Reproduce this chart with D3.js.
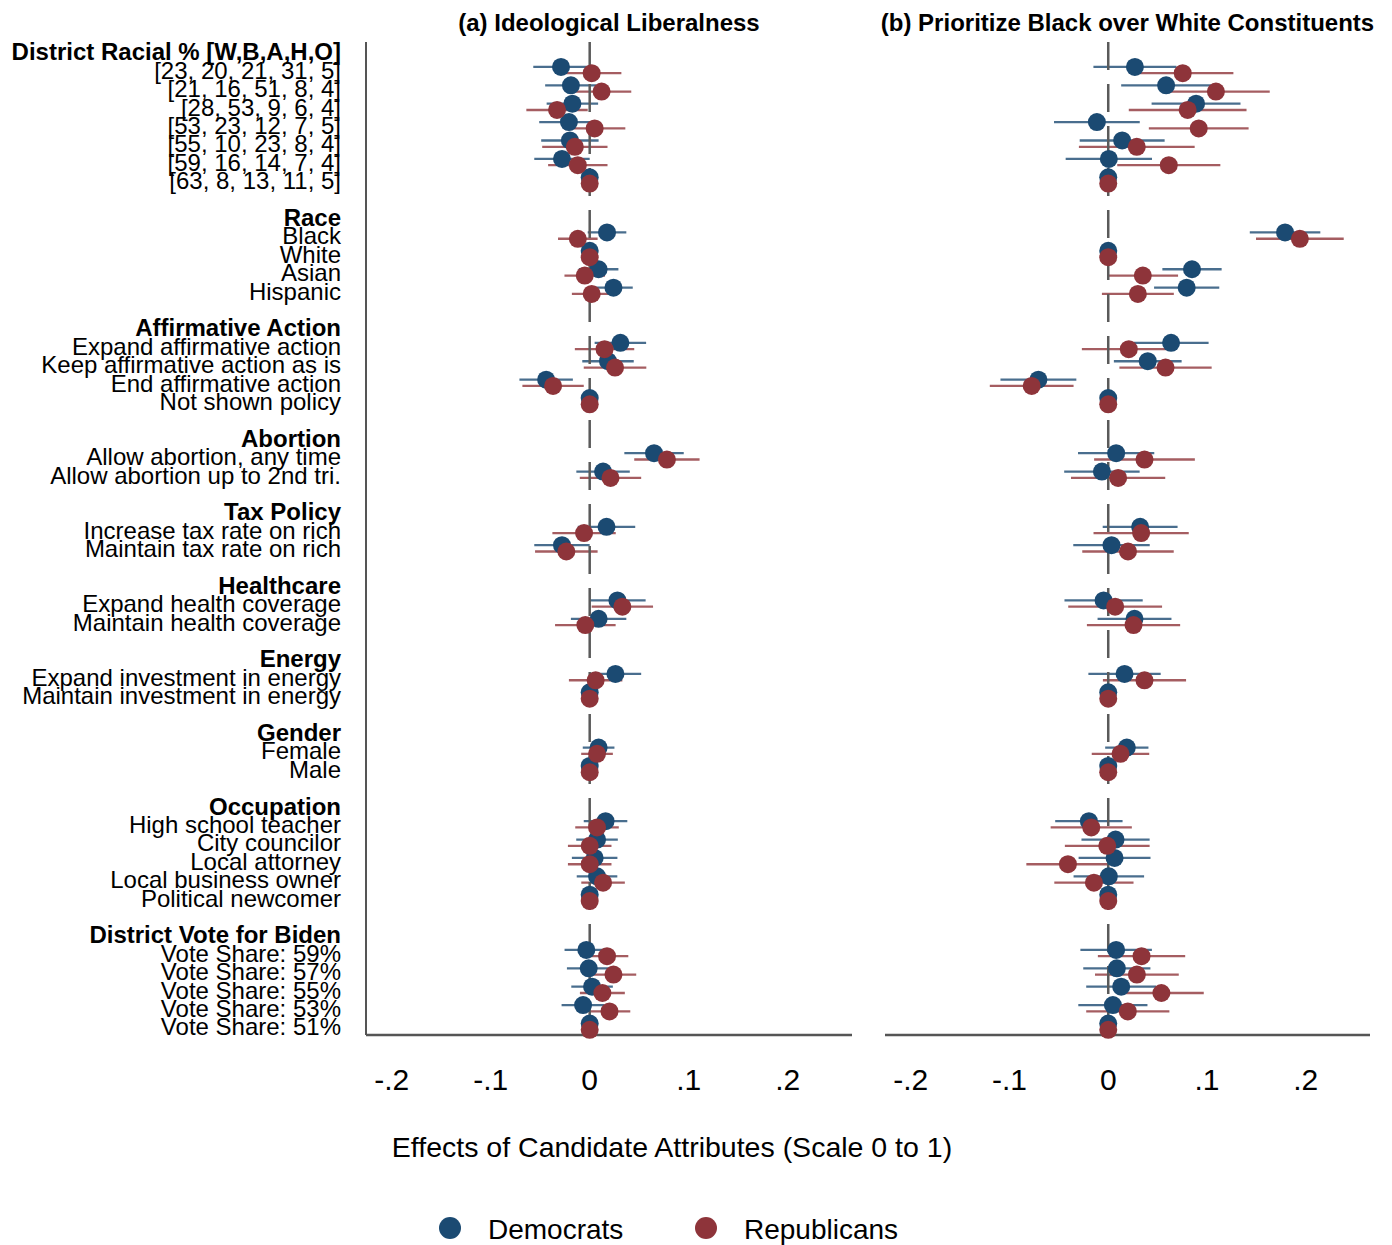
<!DOCTYPE html>
<html>
<head>
<meta charset="utf-8">
<script src="https://cdn.jsdelivr.net/npm/d3@7"></script>
<style>
  body { margin: 0; background: #fff; }
  svg { font-family: "Liberation Sans", Arial, sans-serif; }
</style>
</head>
<body>
<svg width="1392" height="1245"></svg>
<script>
// attribute groups and their levels (last level of each group = reference)
const groupNames = ["District Racial % [W,B,A,H,O]", "Race", "Affirmative Action", "Abortion",
  "Tax Policy", "Healthcare", "Energy", "Gender", "Occupation", "District Vote for Biden"];
const groupLevels = [
  ["[23, 20, 21, 31, 5]", "[21, 16, 51, 8, 4]", "[28, 53, 9, 6, 4]", "[53, 23, 12, 7, 5]",
   "[55, 10, 23, 8, 4]", "[59, 16, 14, 7, 4]", "[63, 8, 13, 11, 5]"],
  ["Black", "White", "Asian", "Hispanic"],
  ["Expand affirmative action", "Keep affirmative action as is", "End affirmative action", "Not shown policy"],
  ["Allow abortion, any time", "Allow abortion up to 2nd tri."],
  ["Increase tax rate on rich", "Maintain tax rate on rich"],
  ["Expand health coverage", "Maintain health coverage"],
  ["Expand investment in energy", "Maintain investment in energy"],
  ["Female", "Male"],
  ["High school teacher", "City councilor", "Local attorney", "Local business owner", "Political newcomer"],
  ["Vote Share: 59%", "Vote Share: 57%", "Vote Share: 55%", "Vote Share: 53%", "Vote Share: 51%"]
];

// (a) Ideological Liberalness: estimates and 95% CI half widths
const libDem = [-.029, -.019, -.0175, -.021, -.020, -.028, 0,
  .0175, 0, .009, .024,
  .031, .0185, -.044, 0,
  .065, .0135,
  .017, -.028,
  .028, .009,
  .026, 0,
  .009, 0,
  .016, .0074, .005, .0074, 0,
  -.0034, -.001, .0024, -.0067, 0];
const libDemCI = [.028, .026, .026, .030, .029, .028, 0,
  .0195, 0, .020, .0195,
  .026, .026, .027, 0,
  .030, .027,
  .029, .028,
  .0285, .028,
  .026, 0,
  .016, 0,
  .022, .021, .023, .0205, 0,
  .022, .022, .021, .0217, 0];
const libRep = [.002, .012, -.033, .005, -.015, -.012, 0,
  -.012, 0, -.005, .002,
  .015, .0256, -.037, 0,
  .078, .021,
  -.0057, -.0236,
  .033, -.0044,
  .006, 0,
  .0074, 0,
  .0074, 0, 0, .0135, 0,
  .0175, .024, .0128, .020, 0];
const libRepCI = [.030, .030, .031, .031, .033, .030, 0,
  .020, 0, .0205, .020,
  .030, .0316, .031, 0,
  .033, .031,
  .032, .0316,
  .031, .0306,
  .027, 0,
  .016, 0,
  .022, .022, .022, .022, 0,
  .0215, .023, .0227, .021, 0];

// (b) Prioritize Black over White Constituents
const blkDem = [.027, .0586, .0889, -.0115, .0141, .0006, 0,
  .179, 0, .0848, .0794,
  .0636, .040, -.0707, 0,
  .008, -.0064,
  .0323, .0033,
  -.0047, .0266,
  .0165, 0,
  .0188, 0,
  -.0196, .0074, .0064, .0006, 0,
  .008, .0087, .0131, .0047, 0];
const blkDemCI = [.042, .0455, .045, .0434, .043, .0437, 0,
  .0357, 0, .030, .033,
  .038, .0343, .0384, 0,
  .0386, .0382,
  .0379, .0387,
  .0396, .0374,
  .0366, 0,
  .0219, 0,
  .0341, .0345, .0364, .0357, 0,
  .0362, .034, .0354, .035, 0];
const blkRep = [.0754, .109, .0804, .0916, .0289, .0613, 0,
  .194, 0, .035, .030,
  .0208, .058, -.0775, 0,
  .0367, .010,
  .0333, .020,
  .007, .0256,
  .0367, 0,
  .0124, 0,
  -.0172, -.001, -.0408, -.0145, 0,
  .0337, .029, .0538, .0198, 0];
const blkRepCI = [.0513, .0545, .0596, .0505, .0586, .0522, 0,
  .0444, 0, .0357, .0364,
  .0475, .0467, .0424, 0,
  .051, .0477,
  .0482, .0463,
  .0475, .0472,
  .0421, 0,
  .0291, 0,
  .0411, .0429, .0421, .0401, 0,
  .0442, .0424, .0429, .0421, 0];

const xTicks = [-0.2, -0.1, 0, 0.1, 0.2];
const seriesNames = ["Democrats", "Republicans"];
const colors = {Democrats: "#1b4a72", Republicans: "#8e343a"};

const svg = d3.select("svg");

// build rows: header, levels, blank spacer
const rows = [];
let slot = 0, k = 0;
groupNames.forEach((g, gi) => {
  rows.push({label: g, header: true, slot: slot++});
  groupLevels[gi].forEach(l => {
    rows.push({label: l, header: false, slot: slot++, i: k++});
  });
  slot++;
});
const nSlots = slot - 2;

const y = d3.scaleLinear().domain([0, nSlots]).range([52, 1027]);
const plotTop = 42, plotBottom = 1035;

// stata style tick labels: -.2, -.1, 0, .1, .2
const tickFmt = d => d === 0 ? "0" : (d < 0 ? "-" : "") + String(Math.abs(d)).replace(/^0/, "");

const panels = [
  {title: "(a) Ideological Liberalness", x: d3.scaleLinear().domain([-0.226, 0.265]).range([366, 852]),
   dem: libDem, demCI: libDemCI, rep: libRep, repCI: libRepCI, yAxis: true},
  {title: "(b) Prioritize Black over White Constituents", x: d3.scaleLinear().domain([-0.226, 0.265]).range([885, 1370]),
   dem: blkDem, demCI: blkDemCI, rep: blkRep, repCI: blkRepCI, yAxis: false}
];

const levelRows = rows.filter(r => !r.header);

panels.forEach(p => {
  const g = svg.append("g");
  const [x0, x1] = p.x.range();

  g.append("text")
    .attr("x", (x0 + x1) / 2).attr("y", 31)
    .attr("text-anchor", "middle")
    .attr("font-size", 24).attr("font-weight", "bold")
    .text(p.title);

  // axis lines
  if (p.yAxis) {
    g.append("line")
      .attr("x1", x0).attr("x2", x0).attr("y1", plotTop).attr("y2", plotBottom)
      .attr("stroke", "#555").attr("stroke-width", 2);
  }
  g.append("line")
    .attr("x1", x0).attr("x2", x1).attr("y1", plotBottom).attr("y2", plotBottom)
    .attr("stroke", "#555").attr("stroke-width", 2.5);

  g.selectAll(".tick").data(xTicks).enter().append("text")
    .attr("x", d => p.x(d)).attr("y", 1090)
    .attr("text-anchor", "middle")
    .attr("font-size", 30)
    .text(tickFmt);

  const series = [
    {name: "Democrats", est: p.dem, ci: p.demCI, dy: -3.5},
    {name: "Republicans", est: p.rep, ci: p.repCI, dy: 2.8}
  ];

  // confidence intervals
  series.forEach(s => {
    g.append("g").selectAll("line")
      .data(levelRows.filter(r => s.ci[r.i] > 0))
      .enter().append("line")
      .attr("x1", r => p.x(s.est[r.i] - s.ci[r.i]))
      .attr("x2", r => p.x(s.est[r.i] + s.ci[r.i]))
      .attr("y1", r => y(r.slot) + s.dy)
      .attr("y2", r => y(r.slot) + s.dy)
      .attr("stroke", colors[s.name])
      .attr("stroke-opacity", 0.8)
      .attr("stroke-width", 2.3);
  });

  // zero reference line
  g.append("line")
    .attr("x1", p.x(0)).attr("x2", p.x(0))
    .attr("y1", plotTop).attr("y2", plotBottom)
    .attr("stroke", "#5a5a5a").attr("stroke-width", 2.5)
    .attr("stroke-dasharray", "28,14");

  series.forEach(s => {
    g.append("g").selectAll("circle")
      .data(levelRows)
      .enter().append("circle")
      .attr("cx", r => p.x(s.est[r.i]))
      .attr("cy", r => y(r.slot) + s.dy)
      .attr("r", 9)
      .attr("fill", colors[s.name]);
  });
});

// row labels
svg.append("g").selectAll("text")
  .data(rows).enter().append("text")
  .attr("x", 341)
  .attr("y", r => y(r.slot))
  .attr("dy", "0.35em")
  .attr("text-anchor", "end")
  .attr("font-size", 24)
  .attr("font-weight", r => r.header ? "bold" : "normal")
  .text(r => r.label);

// x axis title
svg.append("text")
  .attr("x", 672).attr("y", 1157)
  .attr("text-anchor", "middle")
  .attr("font-size", 28.5)
  .text("Effects of Candidate Attributes (Scale 0 to 1)");

// legend
const legend = svg.append("g").selectAll("g")
  .data(seriesNames).enter().append("g")
  .attr("transform", (d, i) => `translate(${450 + i * 256},1228)`);
legend.append("circle").attr("r", 11).attr("fill", d => colors[d]);
legend.append("text")
  .attr("x", 38).attr("y", 11)
  .attr("font-size", 28)
  .text(d => d);
</script>
</body>
</html>
